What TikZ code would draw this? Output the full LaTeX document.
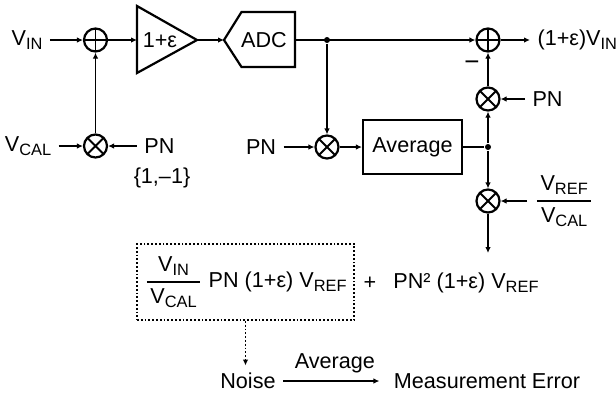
\documentclass[tikz,border=0pt]{standalone}
\usepackage{fontspec}
\usepackage{amsmath}
\setmainfont{Liberation Sans}
\usetikzlibrary{arrows.meta}

\newcommand{\vsub}[1]{\raisebox{-0.2em}{\fontsize{8.2}{9}\selectfont #1}}
\newcommand{\vfrac}[2]{$\genfrac{}{}{0.9pt}{0}{\text{\,#1\,}}{\text{\,#2\,}}$}

\begin{document}
\begin{tikzpicture}[x=0.5pt,y=-0.5pt,>={Latex[length=3pt,width=2.8pt]},line width=0.9pt,
  every node/.style={font=\fontsize{10.8}{13}\selectfont},
  sumnode/.style={circle,draw,line width=1.1pt,minimum size=11.5pt,inner sep=0pt,
    path picture={\draw[line width=0.9pt] (path picture bounding box.north) -- (path picture bounding box.south)
      (path picture bounding box.west) -- (path picture bounding box.east);}},
  mulnode/.style={circle,draw,line width=1.1pt,minimum size=11.5pt,inner sep=0pt,
    path picture={\draw[line width=0.9pt] (path picture bounding box.north west) -- (path picture bounding box.south east)
      (path picture bounding box.south west) -- (path picture bounding box.north east);}},
  dotnode/.style={circle,fill,inner sep=0pt,minimum size=3pt}]
\useasboundingbox (0,0) rectangle (616,398);

% calibration input
\node[sumnode] (s1) at (95.5,40) {};
\node[mulnode] (m1) at (95.5,146) {};
\node (vin) at (27,40) {V\vsub{IN}};
\node (vcal) at (28,146) {V\vsub{CAL}};
\node (pn1) at (159.5,146) {PN};
\node (pnset) at (162,178) {\{1,–1\}};

% amplifier and ADC
\coordinate (ampin) at (137,40);
\coordinate (ampout) at (197,40);
\draw[line width=1.1pt] (137,6) -- (ampout) -- (137,73) -- cycle;
\node (amp) at (160,40) {1+ε};
\coordinate (adcin) at (224,40);
\coordinate (adcout) at (295,40);
\draw[line width=1.1pt] (adcin) -- (241.5,12) -- (295,12) -- (295,67) -- (241.5,67) -- cycle;
\node (adc) at (264,40) {ADC};

% correlation and correction
\node[sumnode] (s2) at (488,40) {};
\node[dotnode] (j1) at (327,40) {};
\node[mulnode] (m2) at (327,147) {};
\node (pn2) at (261,147) {PN};
\node[draw,line width=1.1pt,minimum width=49.5pt,minimum height=27pt] (avg) at (412.5,147) {Average};
\node[dotnode] (j2) at (488,147) {};
\node[mulnode] (m3) at (488,99) {};
\node[mulnode] (m4) at (488,201) {};
\coordinate (vend) at (488,253);
\node[anchor=west] (pn3) at (525,99) {PN};
\node[anchor=west] (ratio) at (527,201) {\vfrac{V\vsub{REF}}{V\vsub{CAL}}};
\node[anchor=west] (out) at (530,40) {(1+ε)V\vsub{IN}};
\node (minus) at (472,66) {\fontsize{13}{13}\selectfont −};

\draw[->] (vin.east |- s1) -- (s1);
\draw[->] (vcal.east |- m1) -- (m1);
\draw[->] (pn1.west |- m1) -- (m1);
\draw[->] (m1) -- (s1);
\draw[->] (s1) -- (ampin);
\draw[->] (ampout) -- (adcin);
\draw[->] (adcout) -- (s2);
\draw[->] (j1) -- (m2);
\draw[->] (pn2.east |- m2) -- (m2);
\draw[->] (m2) -- (avg);
\draw (avg) -- (j2);
\draw[->] (j2) -- (m3);
\draw[->] (m3) -- (s2);
\draw[->] (j2) -- (m4);
\draw[->] (m4) -- (vend);
\draw[->] (pn3.west |- m3) -- (m3);
\draw[->] (ratio.west |- m4) -- (m4);
\draw[->] (s2) -- (out.west |- s2);

% expansion of the result
\node[draw,densely dotted,line width=0.9pt,minimum width=108.5pt,minimum height=38pt] (expr) at (245.5,282)
  {\vfrac{V\vsub{IN}}{V\vsub{CAL}} PN (1+ε) V\vsub{REF}};
\node (plus) at (370,283) {+};
\node (term) at (466,283) {PN² (1+ε) V\vsub{REF}};
\node (noise) at (248,381) {Noise};
\node (err) at (487,381) {Measurement Error};
\draw[->,densely dotted] (expr.south) -- (expr.south |- noise.north);
\draw[->,shorten >=3.5pt] (noise) -- node[above] {Average} (err);
\end{tikzpicture}
\end{document}
